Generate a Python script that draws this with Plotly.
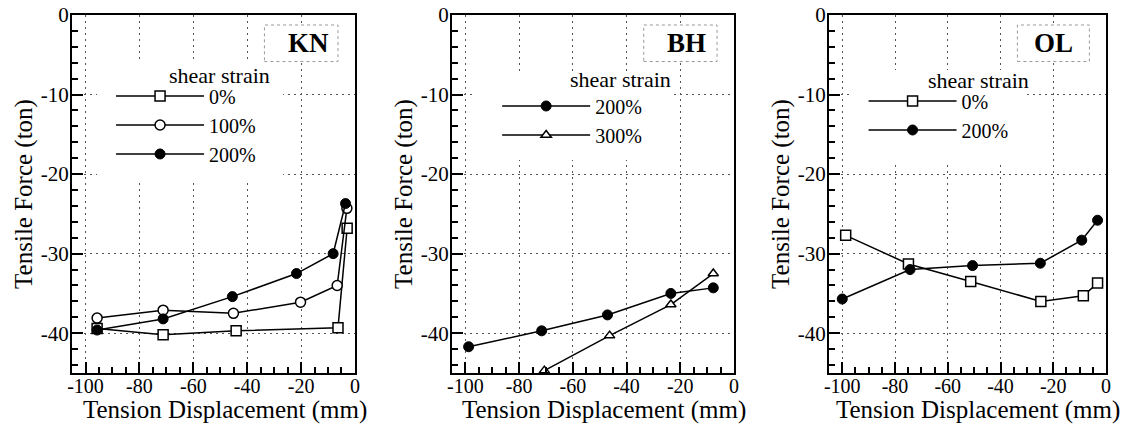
import plotly.graph_objects as go

# ---------------- data ----------------
# KN panel
kn_x_0 = [-95.7, -71.2, -44.1, -6.3, -2.9]
kn_y_0 = [-39.4, -40.2, -39.7, -39.3, -26.8]
kn_x_100 = [-95.7, -71.2, -45.1, -20.2, -6.6, -3.0]
kn_y_100 = [-38.1, -37.1, -37.5, -36.1, -34.0, -24.3]
kn_x_200 = [-95.7, -71.2, -45.5, -21.7, -8.1, -3.5]
kn_y_200 = [-39.6, -38.2, -35.4, -32.5, -30.0, -23.7]
# BH panel
bh_x_200 = [-98.8, -71.6, -47.1, -23.5, -7.7]
bh_y_200 = [-41.7, -39.7, -37.7, -35.0, -34.3]
bh_x_300 = [-70.6, -46.3, -23.5, -7.7]
bh_y_300 = [-44.7, -40.3, -36.4, -32.5]
# OL panel
ol_x_0 = [-98.7, -74.9, -51.3, -24.7, -8.6, -3.2]
ol_y_0 = [-27.7, -31.3, -33.5, -36.0, -35.3, -33.7]
ol_x_200 = [-100.0, -74.3, -50.6, -24.9, -9.2, -3.2]
ol_y_200 = [-35.7, -32.0, -31.5, -31.2, -28.3, -25.8]

panel_names = ["KN", "BH", "OL"]
x_tick_vals = [-100, -80, -60, -40, -20, 0]
x_tick_text = ["-100", "-80", "-60", "-40", "-20", "0"]
y_tick_vals = [0, -10, -20, -30, -40]
y_tick_text = ["0", "-10", "-20", "-30", "-40"]
x_title = "Tension Displacement (mm)"
y_title = "Tensile Force (ton)"
legend_title = "shear strain"

FONT = "Liberation Serif"

sq_open = dict(symbol="square", size=10, color="white", line=dict(color="black", width=1.5))
ci_open = dict(symbol="circle", size=10, color="white", line=dict(color="black", width=1.5))
ci_fill = dict(symbol="circle", size=10, color="black", line=dict(color="black", width=1))
tri_open = dict(symbol="triangle-up", size=9, color="white", line=dict(color="black", width=1.5))
line_style = dict(color="black", width=1.5)

fig = go.Figure()

series = [
    (kn_x_0, kn_y_0, "0%", sq_open, 1),
    (kn_x_100, kn_y_100, "100%", ci_open, 1),
    (kn_x_200, kn_y_200, "200%", ci_fill, 1),
    (bh_x_200, bh_y_200, "200%", ci_fill, 2),
    (bh_x_300, bh_y_300, "300%", tri_open, 2),
    (ol_x_0, ol_y_0, "0%", sq_open, 3),
    (ol_x_200, ol_y_200, "200%", ci_fill, 3),
]
for xs, ys, name, mk, p in series:
    suffix = "" if p == 1 else str(p)
    fig.add_trace(go.Scatter(
        x=xs, y=ys, name=name, mode="lines+markers",
        line=line_style, marker=mk, cliponaxis=False,
        xaxis="x" + suffix, yaxis="y" + suffix,
        legend="legend" + suffix,
    ))

x_domains = [[0.0641, 0.3158], [0.4021, 0.6530], [0.7376, 0.9840]]
y_domain = [0.1285, 0.965]

axis_common = dict(
    showline=True, linecolor="black", linewidth=2, mirror=True,
    ticks="inside", ticklen=11, tickwidth=1.5, tickcolor="black",
    showgrid=True, gridcolor="#555555", gridwidth=1.3, griddash="2px,4px",
    zeroline=False, automargin=False,
    title_font=dict(family=FONT, size=25, color="black"),
)

layout = dict(
    width=1124, height=428,
    margin=dict(l=0, r=0, t=0, b=0, autoexpand=False),
    paper_bgcolor="white", plot_bgcolor="white",
    font=dict(family=FONT, color="black"),
    shapes=[], annotations=[],
)

legend_pos = [(0.0988, 0.8213), (0.4423, 0.7979), (0.7683, 0.8096)]
title_pos = [(167, 75), (568, 79), (926, 81)]
xtitle_x = [224.5, 604, 978]
label_x = [0.835, 0.833, 0.81]
# white areas behind legends (domain fractions: x0, x1, y0, y1)
legend_boxes = [(0.088, 0.746, 0.539, 0.866), (0.082, 0.780, 0.595, 0.838), (0.076, 0.715, 0.587, 0.846)]

for i in range(3):
    s = "" if i == 0 else str(i + 1)
    layout["xaxis" + s] = dict(
        axis_common, domain=x_domains[i], range=[-105, 0], anchor="y" + s,
        tickvals=x_tick_vals, ticktext=x_tick_text, ticklabelstandoff=-6,
        tickfont=dict(family=FONT, size=20, color="black"),
        minor=dict(dtick=5, tick0=0, ticks="inside", ticklen=6, tickcolor="black", tickwidth=1.5, showgrid=False),
    )
    layout["yaxis" + s] = dict(
        axis_common, domain=y_domain, range=[-45, 0], anchor="x" + s,
        tickvals=y_tick_vals, ticktext=y_tick_text, ticklabelstandoff=-3,
        tickfont=dict(family=FONT, size=21, color="black"),
        minor=dict(dtick=2, tick0=0, ticks="inside", ticklen=6, tickcolor="black", tickwidth=1.5, showgrid=False),
        title=dict(text=y_title, standoff=1),
    )
    lx, ly = legend_pos[i]
    layout["legend" + s] = dict(
        x=lx, y=ly, xanchor="left", yanchor="top", xref="paper", yref="paper",
        bgcolor="rgba(0,0,0,0)", borderwidth=0, itemwidth=88,
        font=dict(family=FONT, size=20, color="black"),
        tracegroupgap=0, itemclick=False,
    )
    bx0, bx1, by0, by1 = legend_boxes[i]
    layout["shapes"].append(dict(
        type="rect", xref="x" + s + " domain", yref="y" + s + " domain",
        x0=bx0, x1=bx1, y0=by0, y1=by1,
        line=dict(width=0), fillcolor="white", layer="above",
    ))
    # panel label box
    layout["shapes"].append(dict(
        type="rect", xref="x" + s + " domain", yref="y" + s + " domain",
        x0=0.68, x1=0.94, y0=0.87, y1=0.972,
        line=dict(color="#999999", width=1, dash="dot"), fillcolor="white", layer="above",
    ))
    layout["annotations"].append(dict(
        text="<b>" + panel_names[i] + "</b>", xref="x" + s + " domain", yref="y" + s + " domain",
        x=label_x[i], y=0.921, xanchor="center", yanchor="middle", showarrow=False,
        font=dict(family=FONT, size=27, color="black"),
    ))
    tx, ty = title_pos[i]
    layout["annotations"].append(dict(
        text=legend_title, xref="paper", yref="paper",
        x=tx / 1124, y=1 - ty / 428, xanchor="left", yanchor="middle", showarrow=False,
        font=dict(family=FONT, size=22, color="black"),
    ))
    # x-axis title
    layout["annotations"].append(dict(
        text=x_title, xref="paper", yref="paper",
        x=xtitle_x[i] / 1124, y=1 - 410 / 428, xanchor="center", yanchor="middle", showarrow=False,
        font=dict(family=FONT, size=25, color="black"),
    ))

fig.update_layout(**layout)
fig.write_html("out.html")
